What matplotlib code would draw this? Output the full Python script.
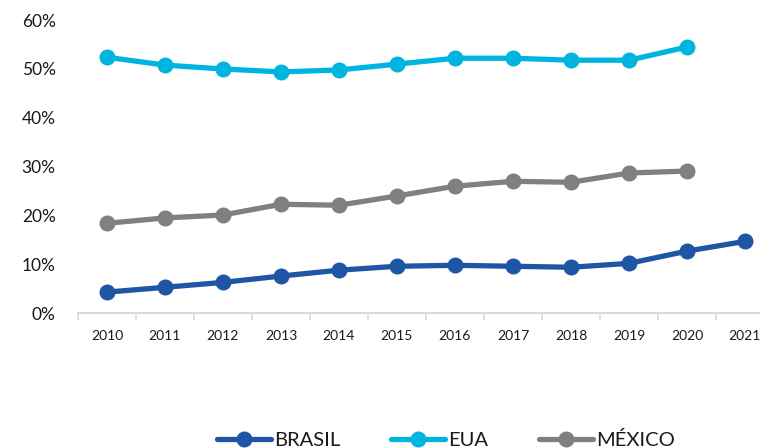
import matplotlib.pyplot as plt
from matplotlib.ticker import FixedLocator, PercentFormatter

# share per year, in percent
years = ["2010", "2011", "2012", "2013", "2014", "2015",
         "2016", "2017", "2018", "2019", "2020", "2021"]
brasil = [4.3, 5.3, 6.3, 7.6, 8.8, 9.6, 9.8, 9.6, 9.4, 10.2, 12.7, 14.7]
eua = [52.4, 50.8, 50.0, 49.4, 49.8, 51.0, 52.2, 52.2, 51.8, 51.8, 54.5]
mexico = [18.4, 19.5, 20.1, 22.3, 22.1, 24.0, 26.0, 27.0, 26.8, 28.7, 29.1]

series = [
    ("BRASIL", brasil, "#1F55A5"),
    ("EUA", eua, "#00B4E0"),
    ("MÉXICO", mexico, "#808080"),
]

plt.rcParams["font.family"] = ["Lato", "DejaVu Sans"]

fig = plt.figure(figsize=(7.6, 4.48), dpi=100)
ax = fig.add_axes([0.1026, 0.301, 0.9158, 0.654])

for name, values, color in series:
    ax.plot(range(len(values)), values, color=color, lw=3.8,
            marker="o", markersize=10.5, label=name,
            solid_capstyle="round", solid_joinstyle="round")

ax.set_xlim(-0.5, len(years) - 0.5)
ax.set_ylim(0, 60)
ax.yaxis.set_major_locator(FixedLocator(range(0, 61, 10)))
ax.yaxis.set_major_formatter(PercentFormatter(decimals=0))
ax.tick_params(axis="y", length=0, pad=16, labelsize=12.5, labelcolor="#1a1a1a")

ax.set_xticks(range(len(years)))
ax.set_xticklabels(years)
ax.set_xticks([i - 0.5 for i in range(len(years) + 1)], minor=True)
ax.tick_params(axis="x", which="major", length=0, pad=12, labelsize=10,
               labelcolor="#1a1a1a")
ax.tick_params(axis="x", which="minor", length=5, width=1.2, color="#D9D9D9")

for side in ["top", "right", "left"]:
    ax.spines[side].set_visible(False)
ax.spines["bottom"].set_color("#D9D9D9")
ax.spines["bottom"].set_linewidth(1.5)

fig.legend(loc="center", bbox_to_anchor=(0.587, 0.017), ncol=3, frameon=False,
           fontsize=14.5, handlelength=2.7, handletextpad=0.15, columnspacing=2.5,
           labelcolor="#1a1a1a")

fig.savefig("out.png", dpi=100)
